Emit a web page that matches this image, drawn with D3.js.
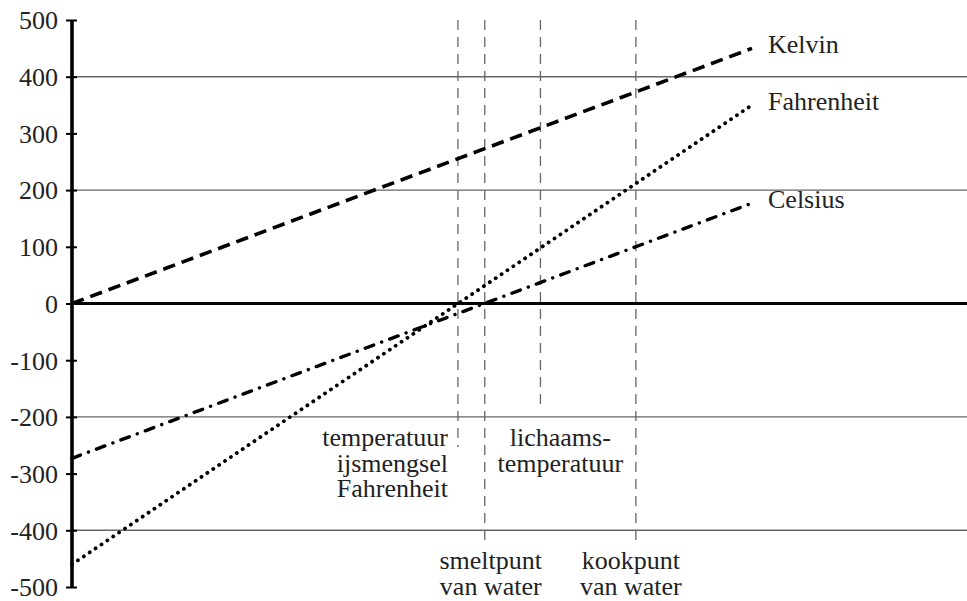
<!DOCTYPE html>
<html><head><meta charset="utf-8">
<script src="https://cdn.jsdelivr.net/npm/d3@7"></script>
<style>body{margin:0;background:#fff}svg{display:block;font-family:'Liberation Serif','Times New Roman',serif}</style>
</head><body>
<svg id="c" width="967" height="601"></svg>
<script>
// x-values (Kelvin) at the start and end of each scale line
const xEnds = [0, 450];
const kelvinVals = [0, 450];
const fahrenheitVals = [-460, 350];
const celsiusVals = [-273, 177];
const seriesNames = ["Kelvin", "Fahrenheit", "Celsius"];
const yTicks = [-500, -400, -300, -200, -100, 0, 100, 200, 300, 400, 500];
const gridVals = [-400, -200, 200, 400];
// reference temperatures (K) and the value where their dashed line ends
const refK = [255.4, 273.15, 310, 373.15];
const refBottom = [-253, -422, -183, -422];
const refLabels = [
  ["temperatuur", "ijsmengsel", "Fahrenheit"],
  ["smeltpunt", "van water"],
  ["lichaams-", "temperatuur"],
  ["kookpunt", "van water"]
];

const svg = d3.select("#c");
const font = "'Liberation Serif','Times New Roman',serif";
const x = d3.scaleLinear().domain([0, 450]).range([72, 752]);
const y = d3.scaleLinear().domain([-500, 500]).range([587, 20]);

// gridlines
svg.append("g").selectAll("line").data(gridVals).join("line")
  .attr("x1", x(0)).attr("x2", 967)
  .attr("y1", d => y(d)).attr("y2", d => y(d))
  .attr("stroke", "#666").attr("stroke-width", 1.4);

// reference dashed verticals
svg.append("g").selectAll("line").data(refK).join("line")
  .attr("x1", d => x(d)).attr("x2", d => x(d))
  .attr("y1", y(500)).attr("y2", (d, i) => y(refBottom[i]))
  .attr("stroke", "#666").attr("stroke-width", 1.3)
  .attr("stroke-dasharray", "10 7");

// zero line
svg.append("line").attr("x1", x(0)).attr("x2", 967)
  .attr("y1", y(0)).attr("y2", y(0))
  .attr("stroke", "#000").attr("stroke-width", 3.2);

// y axis
const yAxis = d3.axisLeft(y).tickValues(yTicks).tickSize(0).tickPadding(14)
  .tickFormat(d => String(d).replace("\u2212", "-"));
const ga = svg.append("g").attr("transform", `translate(${x(0)},0)`).call(yAxis);
ga.attr("font-family", null).attr("font-size", null);
ga.select(".domain").attr("stroke", "#000").attr("stroke-width", 3.6).attr("d", `M0,${y(500)}V${y(-500)}`);
ga.selectAll(".tick line").attr("x1", -6).attr("x2", 5).attr("stroke", "#000").attr("stroke-width", 2);
ga.selectAll(".tick text").style("font-family", font).attr("font-size", 26).attr("fill", "#222")
  .attr("dy", "0.34em");

// series lines
const series = [
  {name: seriesNames[0], vals: kelvinVals, dash: "12.5 7", cap: "butt", w: 3.6},
  {name: seriesNames[1], vals: fahrenheitVals, dash: "0.1 7", cap: "round", w: 3.8},
  {name: seriesNames[2], vals: celsiusVals, dash: "9 8.5 0.1 8.5", cap: "round", w: 3.4}
];
const line = d3.line().x(d => x(d[0])).y(d => y(d[1]));
series.forEach(s => {
  const pts = xEnds.map((k, i) => [k, s.vals[i]]);
  svg.append("path").attr("d", line(pts))
    .attr("fill", "none").attr("stroke", "#000").attr("stroke-width", s.w)
    .attr("stroke-dasharray", s.dash).attr("stroke-linecap", s.cap);
  svg.append("text").attr("x", x(450) + 16).attr("y", y(s.vals[1]) + 5)
    .style("font-family", font).attr("font-size", 26).attr("fill", "#222")
    .text(s.name);
});

// reference labels
function label(lines, xp, y0, anchor, lh) {
  const t = svg.append("text").style("font-family", font).attr("font-size", 26)
    .attr("fill", "#222").attr("text-anchor", anchor);
  lines.forEach((l, i) => t.append("tspan").attr("x", xp).attr("y", y0 + i * lh).text(l));
}
label(refLabels[0], x(refK[0]) - 10, 446, "end", 25.5);
label(refLabels[1], x(refK[1]) + 6, 569, "middle", 25.5);
label(refLabels[2], (x(refK[1]) + x(refK[3])) / 2, 446, "middle", 26);
label(refLabels[3], x(refK[3]) - 5, 569, "middle", 25.5);
</script>
</body></html>
